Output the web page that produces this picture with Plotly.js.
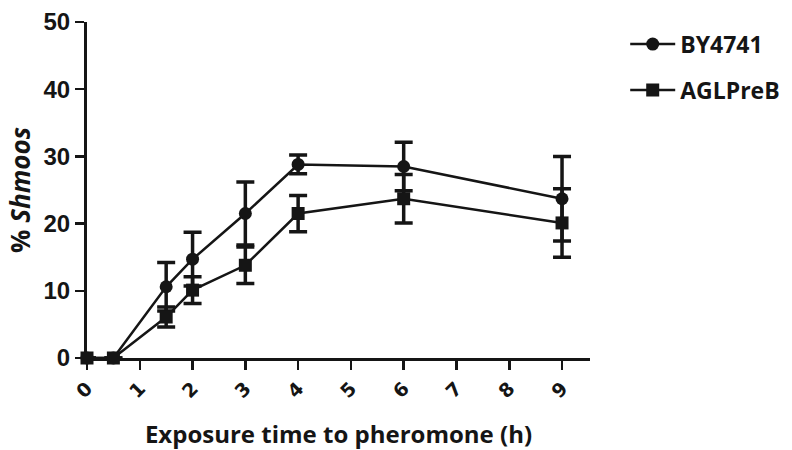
<!DOCTYPE html>
<html>
<head>
<meta charset="utf-8">
<script src="https://cdn.plot.ly/plotly-3.0.1.min.js"></script>
<style>html,body{margin:0;padding:0;background:#fff}#chart{width:792px;height:450px}</style>
</head>
<body>
<div id="chart"></div>
<script>
const timeH = [0, 0.5, 1.5, 2, 3, 4, 6, 9];
const by4741 = [0, 0, 10.6, 14.7, 21.5, 28.8, 28.5, 23.7];
const by4741Err = [0, 0, 3.6, 4.0, 4.7, 1.4, 3.6, 6.3];
const aglPreB = [0, 0, 6.1, 10.1, 13.8, 21.5, 23.7, 20.1];
const aglPreBErr = [0, 0, 1.5, 2.0, 2.7, 2.7, 3.6, 5.1];
const xTicks = [0, 1, 2, 3, 4, 5, 6, 7, 8, 9];
const yTicks = [0, 10, 20, 30, 40, 50];

const ink = '#151515';
function series(name, y, err, symbol, group) {
  return {
    x: timeH, y: y, name: name, type: 'scatter', mode: 'lines+markers',
    legendgroup: group, cliponaxis: false,
    line: {color: ink, width: 2.5},
    marker: {symbol: symbol, size: 13, color: ink},
    error_y: {type: 'data', array: err, visible: true, color: ink, thickness: 3.5, width: 9}
  };
}
const data = [
  series('BY4741', by4741, by4741Err, 'circle', 'a'),
  series('AGLPreB', aglPreB, aglPreBErr, 'square', 'b')
];
const layout = {
  width: 792, height: 450,
  margin: {l: 87, r: 202, t: 22, b: 92, autoexpand: false},
  paper_bgcolor: '#fff', plot_bgcolor: '#fff',
  showlegend: true,
  legend: {x: 1.07, y: 0.998, xanchor: 'left', yanchor: 'top',
    font: {family: 'Open Sans', size: 23, color: ink, weight: 700},
    itemwidth: 45,
    tracegroupgap: 13, traceorder: 'grouped', bgcolor: 'rgba(0,0,0,0)'},
  xaxis: {
    range: [0, 9.53], tickvals: xTicks, ticktext: xTicks.map(String),
    tickangle: -45, ticks: 'outside', ticklen: 9, tickwidth: 2.5, tickcolor: ink,
    showline: true, linecolor: ink, linewidth: 3, showgrid: false, zeroline: false,
    tickfont: {family: 'DejaVu Sans', size: 19, color: ink, weight: 700},
    title: {text: 'Exposure time to pheromone (h)', standoff: 26,
      font: {family: 'Open Sans', size: 24, color: ink, weight: 700}}
  },
  yaxis: {
    range: [0, 50], tickvals: yTicks, ticktext: yTicks.map(String),
    ticks: 'outside', ticklen: 9, tickwidth: 2.5, tickcolor: ink,
    showline: true, linecolor: ink, linewidth: 3, showgrid: false, zeroline: false,
    tickfont: {family: 'Liberation Sans', size: 24, color: ink, weight: 700},
    title: {text: '% <i>Shmoos</i>', standoff: 6,
      font: {family: 'Open Sans', size: 26, color: ink, weight: 700}}
  }
};
Plotly.newPlot('chart', data, layout, {displayModeBar: false, staticPlot: true});
</script>
</body>
</html>
